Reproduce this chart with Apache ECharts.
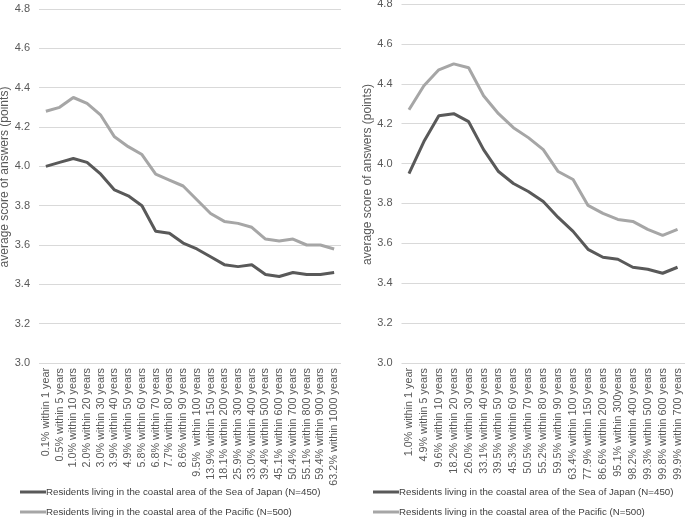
<!DOCTYPE html>
<html><head><meta charset="utf-8">
<script src="https://cdn.jsdelivr.net/npm/echarts@6/dist/echarts.min.js"></script>
<style>html,body{margin:0;padding:0;background:#fff}#c{width:685px;height:519px}</style>
</head><body><div id="c"></div>
<script>
const seriesNames = ["Residents living in the coastal area of the Sea of Japan (N=450)", "Residents living in the coastal area of the Pacific (N=500)"];
const leftCategories = ["0.1% within 1 year","0.5% within 5 years","1.0% within 10 years","2.0% within 20 years","3.0% within 30 years","3.9% within 40 years","4.9% within 50 years","5.8% within 60 years","6.8% within 70 years","7.7% within 80 years","8.6% within 90 years","9.5%  within 100 years","13.9% within 150 years","18.1% within 200 years","25.9% within 300 years","33.0% within 400 years","39.4% within 500 years","45.1% within 600 years","50.4% within 700 years","55.1% within 800 years","59.4% within 900 years","63.2% within 1000 years"];
const leftJapan = [4.00,4.02,4.04,4.02,3.96,3.88,3.85,3.80,3.67,3.66,3.61,3.58,3.54,3.50,3.49,3.50,3.45,3.44,3.46,3.45,3.45,3.46];
const leftPacific = [4.28,4.30,4.35,4.32,4.26,4.15,4.10,4.06,3.96,3.93,3.90,3.83,3.76,3.72,3.71,3.69,3.63,3.62,3.63,3.60,3.60,3.58];
const rightCategories = ["1.0% within 1 year","4.9% within 5 years","9.6% within 10 years","18.2% within 20 years","26.0% within 30 years","33.1% within 40 years","39.5% within 50 years","45.3% within 60 years","50.5% within 70 years","55.2% within 80 years","59.5% within 90 years","63.4% within 100 years","77.9% within 150 years","86.6% within 200 years","95.1% within 300years","98.2% within 400 years","99.3% within 500 years","99.8% within 600 years","99.9% within 700 years"];
const rightJapan = [3.95,4.11,4.24,4.25,4.21,4.07,3.96,3.90,3.86,3.81,3.73,3.66,3.57,3.53,3.52,3.48,3.47,3.45,3.48];
const rightPacific = [4.27,4.39,4.47,4.50,4.48,4.34,4.25,4.18,4.13,4.07,3.96,3.92,3.79,3.75,3.72,3.71,3.67,3.64,3.67];
const yTicks = {min: 3.0, max: 4.8, interval: 0.2};

const FONT = "Liberation Sans";
const darkColor = "#595959", lightColor = "#a6a6a6";
const chart = echarts.init(document.getElementById('c'));
function xAxis(cats, idx){return {type:'category', gridIndex:idx, data:cats, boundaryGap:true,
  axisLine:{show:false}, axisTick:{show:false},
  axisLabel:{rotate:90, interval:0, fontFamily:FONT, fontSize:10.8, color:'#595959', margin:5, overflow:'none'}};}
function yAxis(idx){return {type:'value', gridIndex:idx, min:yTicks.min, max:yTicks.max, interval:yTicks.interval,
  name:'average score of answers (points)', nameLocation:'middle', nameGap:18, nameRotate:90,
  nameTextStyle:{fontFamily:FONT, fontSize:12, color:'#595959', padding:[0,0,0,18]},
  axisLine:{show:false}, axisTick:{show:false},
  axisLabel:{fontFamily:FONT, fontSize:11, color:'#595959', margin:9, formatter:v=>v.toFixed(1)},
  splitLine:{lineStyle:{color:'#d9d9d9', width:1}}};}
function line(name, data, idx, color){return {type:'line', name:name, data:data, xAxisIndex:idx, yAxisIndex:idx,
  symbol:'none', lineStyle:{color:color, width:3}, itemStyle:{color:color}, emphasis:{disabled:true}};}
function legend(left, top, name){return {left:left, top:top, padding:0, orient:'horizontal', itemWidth:26, itemHeight:3,
  icon:'rect', data:[name], selectedMode:false,
  textStyle:{fontFamily:FONT, fontSize:9.7, color:'#404040', padding:[0,0,0,-5]}};}
chart.setOption({
  animation:false,
  grid:[{left:39, top:9, width:302, height:354, outerBoundsMode:'none', containLabel:false},
        {left:401.5, top:4, width:283.5, height:359, outerBoundsMode:'none', containLabel:false}],
  xAxis:[xAxis(leftCategories,0), xAxis(rightCategories,1)],
  yAxis:[yAxis(0), yAxis(1)],
  legend:[legend(20, 487, seriesNames[0]), legend(20, 507, seriesNames[1]),
          legend(373, 487, seriesNames[0]), legend(373, 507, seriesNames[1])],
  series:[line(seriesNames[0], leftJapan, 0, darkColor), line(seriesNames[1], leftPacific, 0, lightColor),
          line(seriesNames[0], rightJapan, 1, darkColor), line(seriesNames[1], rightPacific, 1, lightColor)]
});
</script></body></html>
